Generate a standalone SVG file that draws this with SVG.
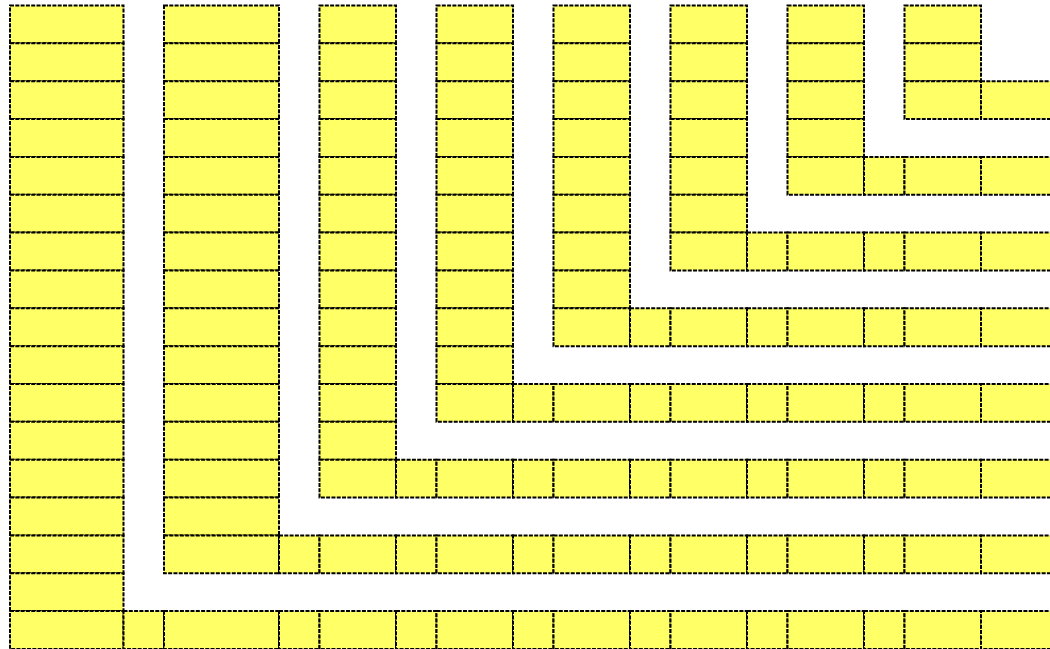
<svg xmlns="http://www.w3.org/2000/svg" width="1050" height="649" viewBox="0 0 1050 649">
<style>
rect.c{fill:#ffff66;stroke:#000;stroke-width:2;stroke-dasharray:4 1.3}
</style>
<rect x="0" y="0" width="1050" height="649" fill="#fff"/>
<g id="L1">
<rect class="c" x="10" y="5.5" width="113.5" height="37.85"/>
<rect class="c" x="10" y="43.35" width="113.5" height="37.85"/>
<rect class="c" x="10" y="81.2" width="113.5" height="37.85"/>
<rect class="c" x="10" y="119.05" width="113.5" height="37.85"/>
<rect class="c" x="10" y="156.9" width="113.5" height="37.85"/>
<rect class="c" x="10" y="194.75" width="113.5" height="37.85"/>
<rect class="c" x="10" y="232.6" width="113.5" height="37.85"/>
<rect class="c" x="10" y="270.45" width="113.5" height="37.85"/>
<rect class="c" x="10" y="308.3" width="113.5" height="37.85"/>
<rect class="c" x="10" y="346.15" width="113.5" height="37.85"/>
<rect class="c" x="10" y="384" width="113.5" height="37.85"/>
<rect class="c" x="10" y="421.85" width="113.5" height="37.85"/>
<rect class="c" x="10" y="459.7" width="113.5" height="37.85"/>
<rect class="c" x="10" y="497.55" width="113.5" height="37.85"/>
<rect class="c" x="10" y="535.4" width="113.5" height="37.85"/>
<rect class="c" x="10" y="573.25" width="113.5" height="37.85"/>
<rect class="c" x="10" y="611.1" width="113.5" height="37.85"/>
<rect class="c" x="123.5" y="611.1" width="40.5" height="37.85"/>
<rect class="c" x="164" y="611.1" width="115" height="37.85"/>
<rect class="c" x="279" y="611.1" width="40.5" height="37.85"/>
<rect class="c" x="319.5" y="611.1" width="76.5" height="37.85"/>
<rect class="c" x="396" y="611.1" width="40.5" height="37.85"/>
<rect class="c" x="436.5" y="611.1" width="76.5" height="37.85"/>
<rect class="c" x="513" y="611.1" width="40.5" height="37.85"/>
<rect class="c" x="553.5" y="611.1" width="76.5" height="37.85"/>
<rect class="c" x="630" y="611.1" width="40.5" height="37.85"/>
<rect class="c" x="670.5" y="611.1" width="76.5" height="37.85"/>
<rect class="c" x="747" y="611.1" width="40.5" height="37.85"/>
<rect class="c" x="787.5" y="611.1" width="76.5" height="37.85"/>
<rect class="c" x="864" y="611.1" width="40.5" height="37.85"/>
<rect class="c" x="904.5" y="611.1" width="76.5" height="37.85"/>
<rect class="c" x="981" y="611.1" width="77" height="37.85"/>
</g>
<g id="L2">
<rect class="c" x="164" y="5.5" width="115" height="37.85"/>
<rect class="c" x="164" y="43.35" width="115" height="37.85"/>
<rect class="c" x="164" y="81.2" width="115" height="37.85"/>
<rect class="c" x="164" y="119.05" width="115" height="37.85"/>
<rect class="c" x="164" y="156.9" width="115" height="37.85"/>
<rect class="c" x="164" y="194.75" width="115" height="37.85"/>
<rect class="c" x="164" y="232.6" width="115" height="37.85"/>
<rect class="c" x="164" y="270.45" width="115" height="37.85"/>
<rect class="c" x="164" y="308.3" width="115" height="37.85"/>
<rect class="c" x="164" y="346.15" width="115" height="37.85"/>
<rect class="c" x="164" y="384" width="115" height="37.85"/>
<rect class="c" x="164" y="421.85" width="115" height="37.85"/>
<rect class="c" x="164" y="459.7" width="115" height="37.85"/>
<rect class="c" x="164" y="497.55" width="115" height="37.85"/>
<rect class="c" x="164" y="535.4" width="115" height="37.85"/>
<rect class="c" x="279" y="535.4" width="40.5" height="37.85"/>
<rect class="c" x="319.5" y="535.4" width="76.5" height="37.85"/>
<rect class="c" x="396" y="535.4" width="40.5" height="37.85"/>
<rect class="c" x="436.5" y="535.4" width="76.5" height="37.85"/>
<rect class="c" x="513" y="535.4" width="40.5" height="37.85"/>
<rect class="c" x="553.5" y="535.4" width="76.5" height="37.85"/>
<rect class="c" x="630" y="535.4" width="40.5" height="37.85"/>
<rect class="c" x="670.5" y="535.4" width="76.5" height="37.85"/>
<rect class="c" x="747" y="535.4" width="40.5" height="37.85"/>
<rect class="c" x="787.5" y="535.4" width="76.5" height="37.85"/>
<rect class="c" x="864" y="535.4" width="40.5" height="37.85"/>
<rect class="c" x="904.5" y="535.4" width="76.5" height="37.85"/>
<rect class="c" x="981" y="535.4" width="77" height="37.85"/>
</g>
<g id="L3">
<rect class="c" x="319.5" y="5.5" width="76.5" height="37.85"/>
<rect class="c" x="319.5" y="43.35" width="76.5" height="37.85"/>
<rect class="c" x="319.5" y="81.2" width="76.5" height="37.85"/>
<rect class="c" x="319.5" y="119.05" width="76.5" height="37.85"/>
<rect class="c" x="319.5" y="156.9" width="76.5" height="37.85"/>
<rect class="c" x="319.5" y="194.75" width="76.5" height="37.85"/>
<rect class="c" x="319.5" y="232.6" width="76.5" height="37.85"/>
<rect class="c" x="319.5" y="270.45" width="76.5" height="37.85"/>
<rect class="c" x="319.5" y="308.3" width="76.5" height="37.85"/>
<rect class="c" x="319.5" y="346.15" width="76.5" height="37.85"/>
<rect class="c" x="319.5" y="384" width="76.5" height="37.85"/>
<rect class="c" x="319.5" y="421.85" width="76.5" height="37.85"/>
<rect class="c" x="319.5" y="459.7" width="76.5" height="37.85"/>
<rect class="c" x="396" y="459.7" width="40.5" height="37.85"/>
<rect class="c" x="436.5" y="459.7" width="76.5" height="37.85"/>
<rect class="c" x="513" y="459.7" width="40.5" height="37.85"/>
<rect class="c" x="553.5" y="459.7" width="76.5" height="37.85"/>
<rect class="c" x="630" y="459.7" width="40.5" height="37.85"/>
<rect class="c" x="670.5" y="459.7" width="76.5" height="37.85"/>
<rect class="c" x="747" y="459.7" width="40.5" height="37.85"/>
<rect class="c" x="787.5" y="459.7" width="76.5" height="37.85"/>
<rect class="c" x="864" y="459.7" width="40.5" height="37.85"/>
<rect class="c" x="904.5" y="459.7" width="76.5" height="37.85"/>
<rect class="c" x="981" y="459.7" width="77" height="37.85"/>
</g>
<g id="L4">
<rect class="c" x="436.5" y="5.5" width="76.5" height="37.85"/>
<rect class="c" x="436.5" y="43.35" width="76.5" height="37.85"/>
<rect class="c" x="436.5" y="81.2" width="76.5" height="37.85"/>
<rect class="c" x="436.5" y="119.05" width="76.5" height="37.85"/>
<rect class="c" x="436.5" y="156.9" width="76.5" height="37.85"/>
<rect class="c" x="436.5" y="194.75" width="76.5" height="37.85"/>
<rect class="c" x="436.5" y="232.6" width="76.5" height="37.85"/>
<rect class="c" x="436.5" y="270.45" width="76.5" height="37.85"/>
<rect class="c" x="436.5" y="308.3" width="76.5" height="37.85"/>
<rect class="c" x="436.5" y="346.15" width="76.5" height="37.85"/>
<rect class="c" x="436.5" y="384" width="76.5" height="37.85"/>
<rect class="c" x="513" y="384" width="40.5" height="37.85"/>
<rect class="c" x="553.5" y="384" width="76.5" height="37.85"/>
<rect class="c" x="630" y="384" width="40.5" height="37.85"/>
<rect class="c" x="670.5" y="384" width="76.5" height="37.85"/>
<rect class="c" x="747" y="384" width="40.5" height="37.85"/>
<rect class="c" x="787.5" y="384" width="76.5" height="37.85"/>
<rect class="c" x="864" y="384" width="40.5" height="37.85"/>
<rect class="c" x="904.5" y="384" width="76.5" height="37.85"/>
<rect class="c" x="981" y="384" width="77" height="37.85"/>
</g>
<g id="L5">
<rect class="c" x="553.5" y="5.5" width="76.5" height="37.85"/>
<rect class="c" x="553.5" y="43.35" width="76.5" height="37.85"/>
<rect class="c" x="553.5" y="81.2" width="76.5" height="37.85"/>
<rect class="c" x="553.5" y="119.05" width="76.5" height="37.85"/>
<rect class="c" x="553.5" y="156.9" width="76.5" height="37.85"/>
<rect class="c" x="553.5" y="194.75" width="76.5" height="37.85"/>
<rect class="c" x="553.5" y="232.6" width="76.5" height="37.85"/>
<rect class="c" x="553.5" y="270.45" width="76.5" height="37.85"/>
<rect class="c" x="553.5" y="308.3" width="76.5" height="37.85"/>
<rect class="c" x="630" y="308.3" width="40.5" height="37.85"/>
<rect class="c" x="670.5" y="308.3" width="76.5" height="37.85"/>
<rect class="c" x="747" y="308.3" width="40.5" height="37.85"/>
<rect class="c" x="787.5" y="308.3" width="76.5" height="37.85"/>
<rect class="c" x="864" y="308.3" width="40.5" height="37.85"/>
<rect class="c" x="904.5" y="308.3" width="76.5" height="37.85"/>
<rect class="c" x="981" y="308.3" width="77" height="37.85"/>
</g>
<g id="L6">
<rect class="c" x="670.5" y="5.5" width="76.5" height="37.85"/>
<rect class="c" x="670.5" y="43.35" width="76.5" height="37.85"/>
<rect class="c" x="670.5" y="81.2" width="76.5" height="37.85"/>
<rect class="c" x="670.5" y="119.05" width="76.5" height="37.85"/>
<rect class="c" x="670.5" y="156.9" width="76.5" height="37.85"/>
<rect class="c" x="670.5" y="194.75" width="76.5" height="37.85"/>
<rect class="c" x="670.5" y="232.6" width="76.5" height="37.85"/>
<rect class="c" x="747" y="232.6" width="40.5" height="37.85"/>
<rect class="c" x="787.5" y="232.6" width="76.5" height="37.85"/>
<rect class="c" x="864" y="232.6" width="40.5" height="37.85"/>
<rect class="c" x="904.5" y="232.6" width="76.5" height="37.85"/>
<rect class="c" x="981" y="232.6" width="77" height="37.85"/>
</g>
<g id="L7">
<rect class="c" x="787.5" y="5.5" width="76.5" height="37.85"/>
<rect class="c" x="787.5" y="43.35" width="76.5" height="37.85"/>
<rect class="c" x="787.5" y="81.2" width="76.5" height="37.85"/>
<rect class="c" x="787.5" y="119.05" width="76.5" height="37.85"/>
<rect class="c" x="787.5" y="156.9" width="76.5" height="37.85"/>
<rect class="c" x="864" y="156.9" width="40.5" height="37.85"/>
<rect class="c" x="904.5" y="156.9" width="76.5" height="37.85"/>
<rect class="c" x="981" y="156.9" width="77" height="37.85"/>
</g>
<g id="L8">
<rect class="c" x="904.5" y="5.5" width="76.5" height="37.85"/>
<rect class="c" x="904.5" y="43.35" width="76.5" height="37.85"/>
<rect class="c" x="904.5" y="81.2" width="76.5" height="37.85"/>
<rect class="c" x="981" y="81.2" width="77" height="37.85"/>
</g>
</svg>
